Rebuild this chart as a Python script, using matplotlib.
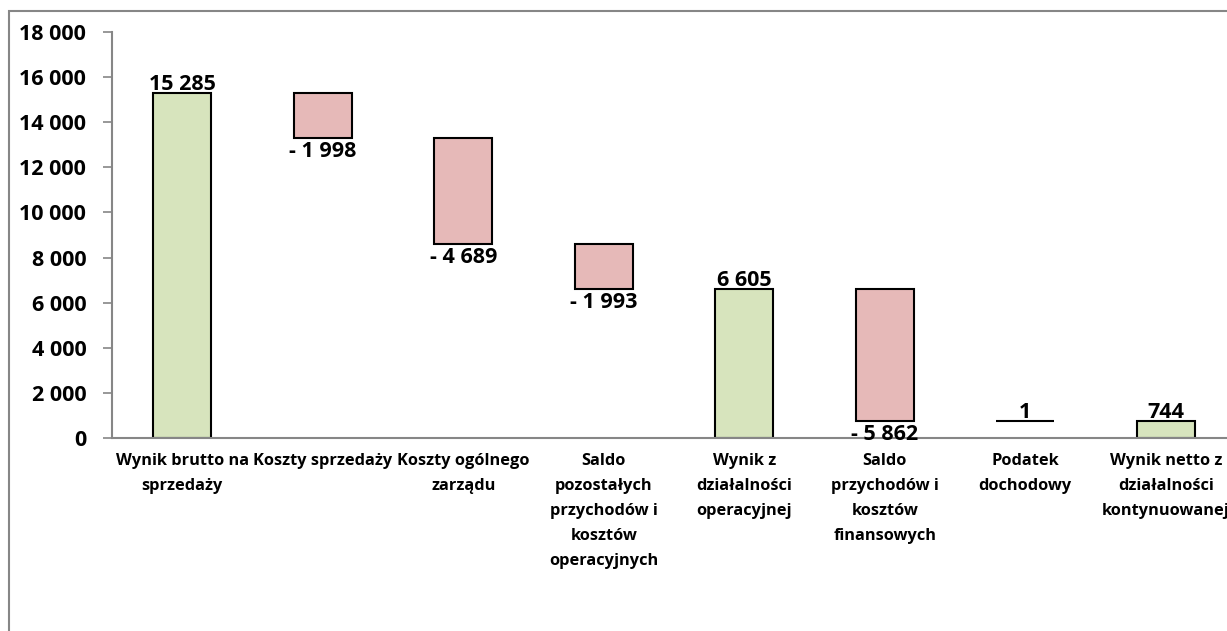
#waterfall chart of wynik finansowy
import matplotlib.pyplot as plt
from matplotlib.patches import Rectangle
import numpy as np

#data:
categories = ["Wynik brutto na\nsprzedaży", "Koszty sprzedaży", "Koszty ogólnego\nzarządu",
              "Saldo\npozostałych\nprzychodów i\nkosztów\noperacyjnych",
              "Wynik z\ndziałalności\noperacyjnej",
              "Saldo\nprzychodów i\nkosztów\nfinansowych",
              "Podatek\ndochodowy", "Wynik netto z\ndziałalności\nkontynuowanej"]
values = [15285, -1998, -4689, -1993, 6605, -5862, 1, 744]
is_total = [True, False, False, False, True, False, False, True]
yticks = np.arange(0, 18001, 2000)

def fmt(v):
    s = "{:,}".format(abs(v)).replace(",", " ")
    return "- " + s if v < 0 else s

#waterfall bottoms / heights:
bottoms, heights = [], []
level = 0
for v, tot in zip(values, is_total):
    if tot:
        bottoms.append(0)
        heights.append(v)
        level = v
    else:
        if v < 0:
            bottoms.append(level + v)
        else:
            bottoms.append(level)
        heights.append(abs(v))
        level = level + v

colors = ['#D7E4BD' if (t or v > 0) else '#E6B9B8' for v, t in zip(values, is_total)]

plt.close('all')
plt.rcParams['font.family'] = ['Open Sans', 'DejaVu Sans']
plt.rcParams['font.weight'] = 'bold'

W, H = 1227, 631
fig = plt.figure(figsize=(W/100, H/100), dpi=100)
ax = fig.add_axes([112/W, 1-438/H, (1236-112)/W, (438-32)/H])

x = np.arange(len(values))
ax.bar(x, heights, bottom=bottoms, width=0.41, color=colors, edgecolor='black', linewidth=1.5)

#labels:
for i, v in enumerate(values):
    if v < 0:
        ax.annotate(fmt(v), (x[i], bottoms[i]), xytext=(0, -2), textcoords='offset points',
                    ha='center', va='top', fontsize=15.5, fontweight='bold')
    else:
        ax.annotate(fmt(v), (x[i], bottoms[i] + heights[i]), xytext=(0, -1.5), textcoords='offset points',
                    ha='center', va='bottom', fontsize=15.5, fontweight='bold')

ax.set_xlim(-0.5, len(values) - 0.5)
ax.set_ylim(0, 18000)
ax.set_yticks(yticks)
ax.set_yticklabels([fmt(t) for t in yticks], fontsize=15.5, fontweight='bold')
ax.set_xticks(x)
ax.set_xticklabels(categories, fontsize=11.8, fontweight='bold', linespacing=1.75)
ax.tick_params(axis='y', length=6.5, width=1.2, color='#868686', pad=12)
ax.tick_params(axis='x', length=0, pad=11)

for s in ['top', 'right']:
    ax.spines[s].set_visible(False)
for s in ['left', 'bottom']:
    ax.spines[s].set_color('#868686')
    ax.spines[s].set_linewidth(1.5)

#frame around chart:
fig.patches.append(Rectangle((9/W, -0.1), 1.2, 1-11/H+0.1, transform=fig.transFigure,
                             fill=False, edgecolor='#868686', linewidth=1.5))

plt.savefig('out.png', dpi=100)
